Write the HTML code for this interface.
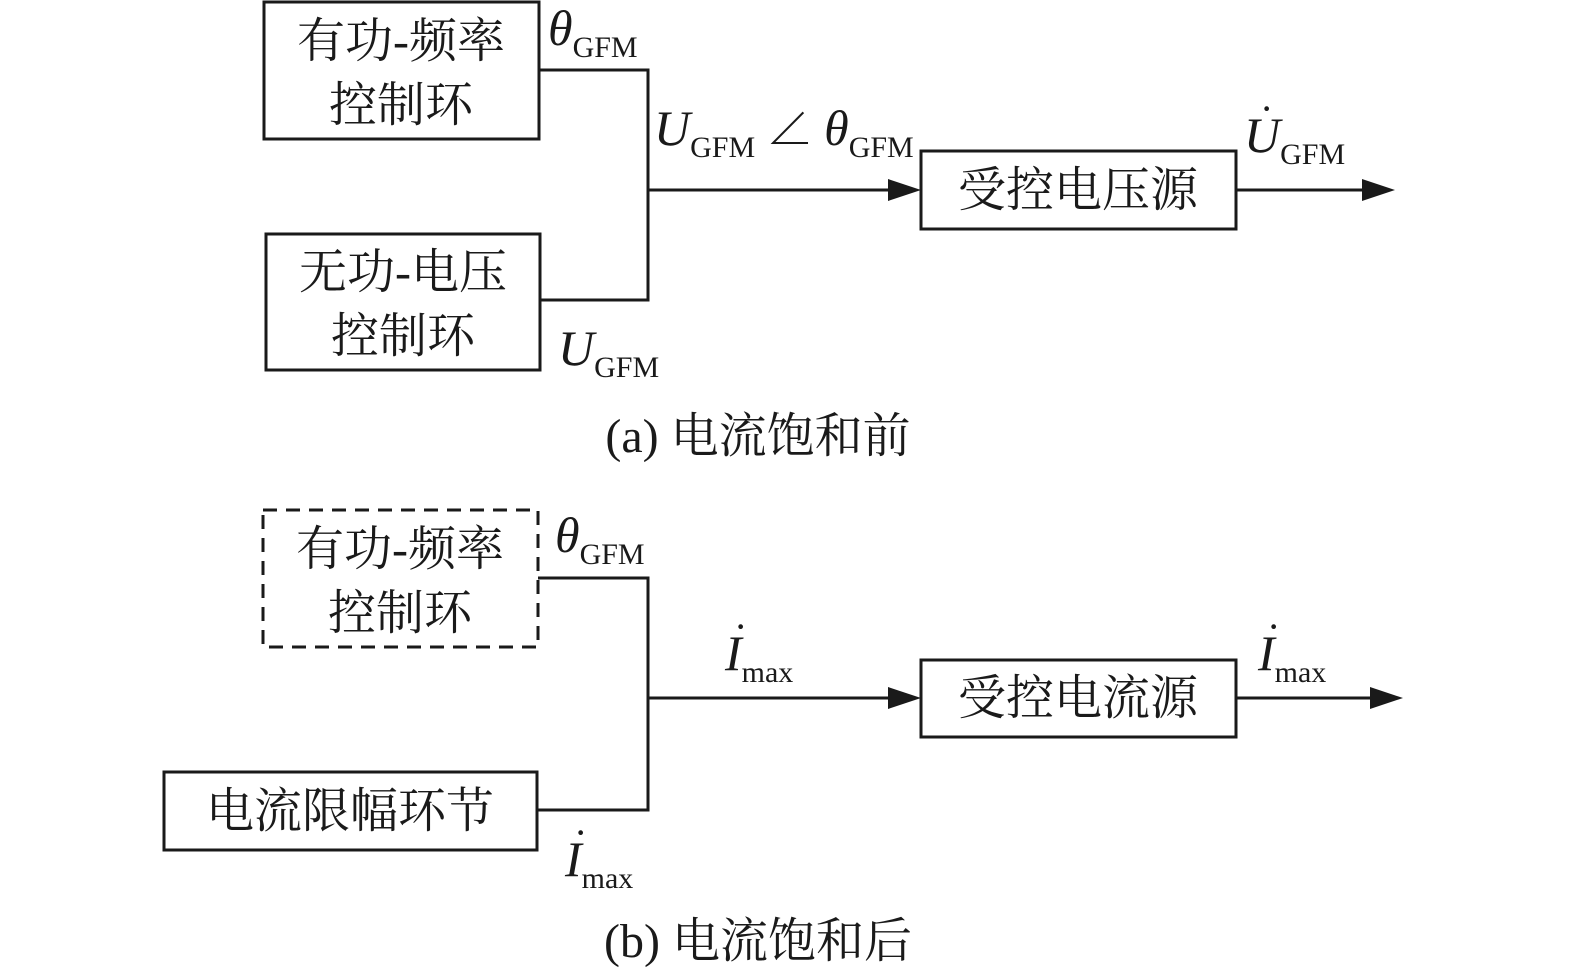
<!DOCTYPE html>
<html><head><meta charset="utf-8"><style>
html,body{margin:0;padding:0;background:#fff;}
svg{display:block}
.c{font-family:"Liberation Serif","Noto Serif CJK SC",serif;font-size:48px;fill:#1a1a1a}
.l{font-family:"Liberation Serif","Noto Serif CJK SC",serif;fill:#1a1a1a}
.i{font-style:italic;font-size:50px}
.s{font-size:30px}
</style></head><body>
<svg width="1575" height="979" viewBox="0 0 1575 979" xmlns="http://www.w3.org/2000/svg">
<g fill="none" stroke="#1a1a1a" stroke-width="3">
<rect x="264" y="2" width="275" height="137"/>
<rect x="266" y="234" width="274" height="136"/>
<rect x="921" y="151" width="315" height="78"/>
<polyline points="539,70 648,70 648,300 540,300"/>
<line x1="648" y1="190" x2="892" y2="190"/>
<line x1="1236" y1="190" x2="1365" y2="190"/>
<rect x="263" y="510" width="275" height="137" stroke-dasharray="14,9"/>
<rect x="921" y="660" width="315" height="77"/>
<rect x="164" y="772" width="373" height="78"/>
<polyline points="538,578 648,578 648,810 537,810"/>
<line x1="648" y1="698" x2="892" y2="698"/>
<line x1="1236" y1="698" x2="1372" y2="698"/>
</g>
<g fill="#1a1a1a">
<polygon points="888,179 921,190 888,201"/>
<polygon points="1362,179 1395,190 1362,201"/>
<polygon points="888,687 921,698 888,709"/>
<polygon points="1370,687 1403,698 1370,709"/>
</g>
<g class="c" text-anchor="middle">
<text x="401" y="57">有功-频率</text>
<text x="401" y="121">控制环</text>
<text x="403" y="288">无功-电压</text>
<text x="403" y="352">控制环</text>
<text x="1078" y="206">受控电压源</text>
<text x="400" y="565">有功-频率</text>
<text x="400" y="629">控制环</text>
<text x="1078" y="714">受控电流源</text>
<text x="350" y="827">电流限幅环节</text>
<text x="758" y="452">(a) 电流饱和前</text>
<text x="758" y="957">(b) 电流饱和后</text>
</g>
<g class="l">
<text x="548" y="45"><tspan class="i">θ</tspan><tspan class="s" dy="12">GFM</tspan></text>
<text x="654" y="145"><tspan class="i">U</tspan><tspan class="s" dy="12">GFM</tspan><tspan dy="-12" font-size="46"> ∠ </tspan><tspan class="i">θ</tspan><tspan class="s" dy="12">GFM</tspan></text>
<text x="1244" y="152"><tspan class="i">U</tspan><tspan class="s" dy="12">GFM</tspan></text>
<text x="1260" y="122" font-size="40">·</text>
<text x="558" y="365"><tspan class="i">U</tspan><tspan class="s" dy="12">GFM</tspan></text>
<text x="555" y="552"><tspan class="i">θ</tspan><tspan class="s" dy="12">GFM</tspan></text>
<text x="725" y="670"><tspan class="i">I</tspan><tspan class="s" dy="12">max</tspan></text>
<text x="734" y="640" font-size="40">·</text>
<text x="1258" y="670"><tspan class="i">I</tspan><tspan class="s" dy="12">max</tspan></text>
<text x="1267" y="640" font-size="40">·</text>
<text x="565" y="876"><tspan class="i">I</tspan><tspan class="s" dy="12">max</tspan></text>
<text x="574" y="846" font-size="40">·</text>
</g>
</svg>
</body></html>
